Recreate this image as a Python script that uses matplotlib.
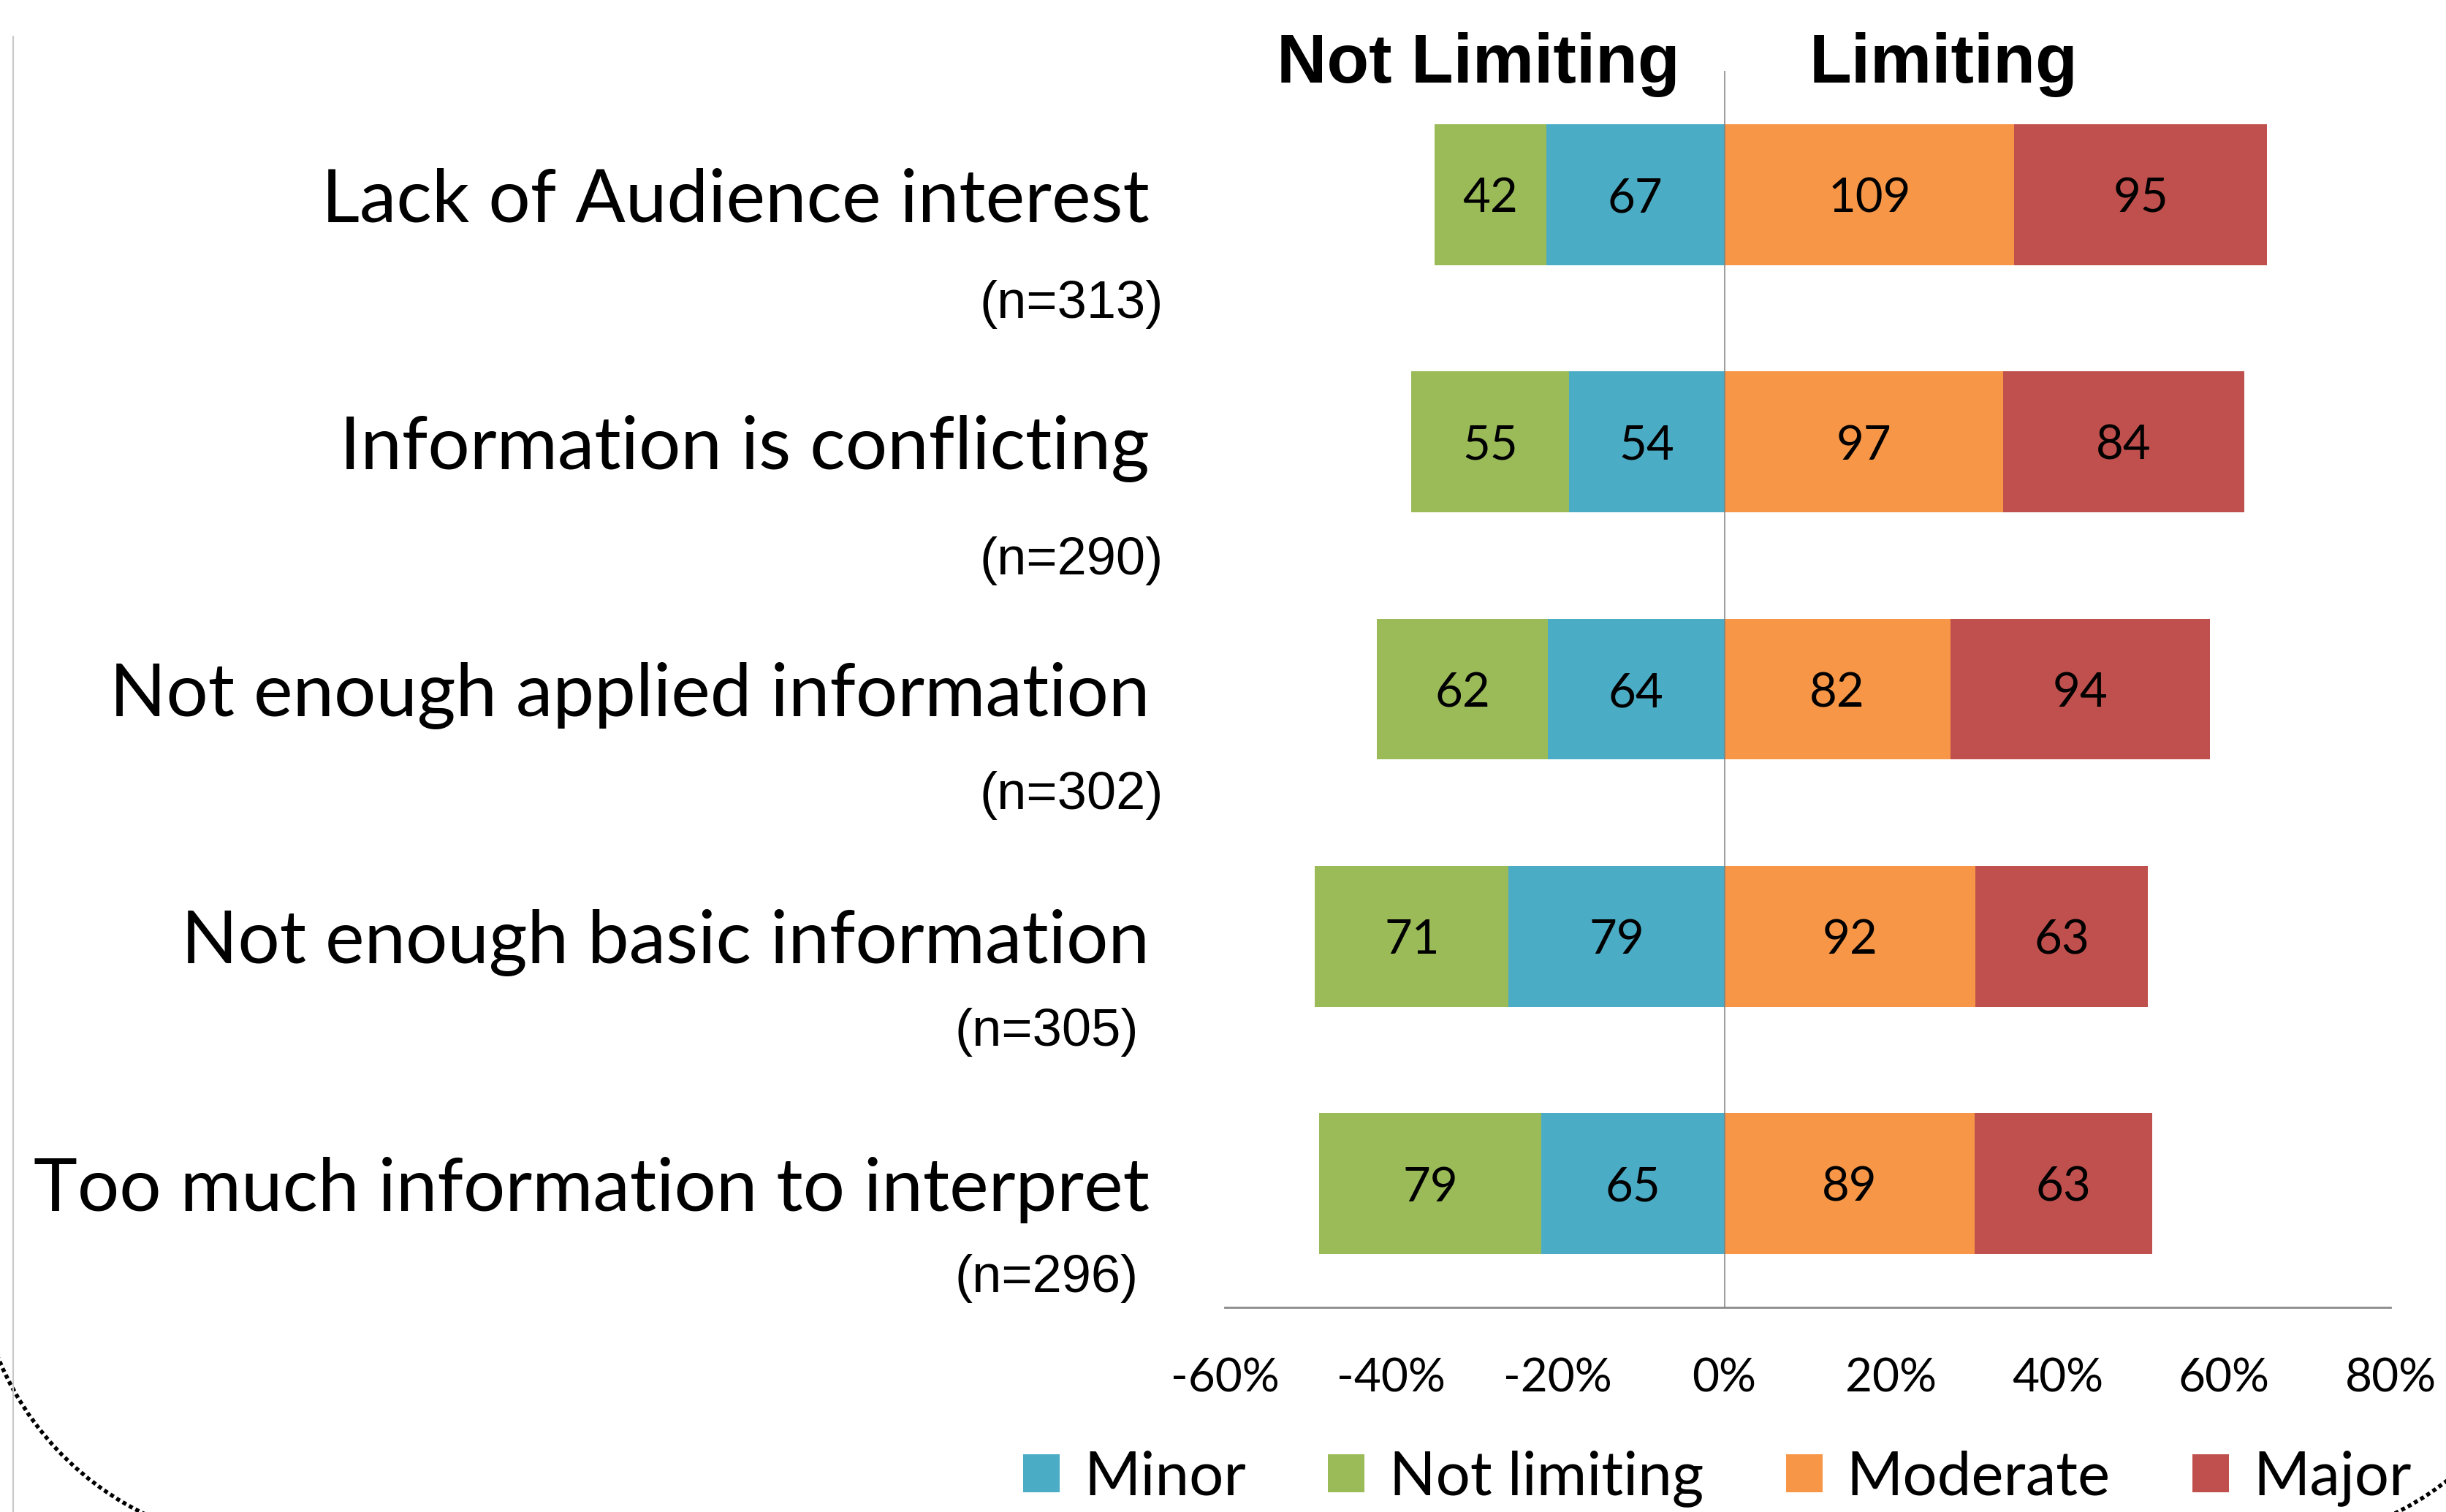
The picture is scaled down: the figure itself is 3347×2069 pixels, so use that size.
import matplotlib
matplotlib.use("Agg")
import matplotlib.pyplot as plt
import numpy as np
from matplotlib.lines import Line2D
from matplotlib.patches import Arc
from matplotlib.ticker import FuncFormatter
from matplotlib.transforms import IdentityTransform

# --- data -------------------------------------------------------------
CATEGORIES = [
    "Lack of Audience interest",
    "Information is conflicting",
    "Not enough applied information",
    "Not enough basic information",
    "Too much information to interpret",
]
N_RESP = [313, 290, 302, 305, 296]
NOT_LIMITING = [42, 55, 62, 71, 79]
MINOR = [67, 54, 64, 79, 65]
MODERATE = [109, 97, 82, 92, 89]
MAJOR = [95, 84, 94, 63, 63]
X_TICKS = [-60, -40, -20, 0, 20, 40, 60, 80]

# --- layout / style ---------------------------------------------------
COLORS = {
    "Minor": "#4BACC6",
    "Not limiting": "#9BBB59",
    "Moderate": "#F79646",
    "Major": "#C0504D",
}
N_LABEL_OFFSET = [0.443, 0.482, 0.431, 0.387, 0.384]
N_LABEL_X = [-0.0527, -0.0527, -0.0527, -0.074, -0.074]
BODY_FONT = "Lato"
HEAD_FONT = "Liberation Sans"

W, H = 3347, 2069
fig = plt.figure(figsize=(W / 100, H / 100), dpi=100)
ax = fig.add_axes([1676 / W, 1 - 1789 / H, 1595 / W, 1692 / H])

y = np.arange(len(CATEGORIES))
n = np.array(N_RESP, dtype=float)
minor = np.array(MINOR) / n * 100
notlim = np.array(NOT_LIMITING) / n * 100
moder = np.array(MODERATE) / n * 100
major = np.array(MAJOR) / n * 100

bar_h = 0.57
segments = [
    ("Minor", -minor, np.zeros_like(minor), MINOR),
    ("Not limiting", -notlim, -minor, NOT_LIMITING),
    ("Moderate", moder, np.zeros_like(moder), MODERATE),
    ("Major", major, moder, MAJOR),
]
handles = {}
for name, widths, lefts, counts in segments:
    bars = ax.barh(y, widths, left=lefts, height=bar_h, color=COLORS[name],
                   edgecolor="none", label=name, zorder=2)
    handles[name] = bars
    for yi, wi, li, c in zip(y, widths, lefts, counts):
        ax.text(li + wi / 2, yi, str(c), ha="center", va="center_baseline",
                fontsize=47, family=BODY_FONT, color="black", zorder=3)

ax.axvline(0, color="#808080", lw=1.1, zorder=4)

ax.set_xlim(-60, 80)
ax.set_ylim(len(CATEGORIES) - 0.5, -0.5)
ax.set_xticks(X_TICKS)
ax.xaxis.set_major_formatter(FuncFormatter(lambda v, _: f"{int(v)}%"))
ax.tick_params(axis="x", length=0, pad=49, labelsize=46)
for lbl in ax.get_xticklabels():
    lbl.set_family(BODY_FONT)

ax.set_yticks(y)
ax.set_yticklabels(CATEGORIES, fontsize=73, family=BODY_FONT)
ax.tick_params(axis="y", length=0, pad=74)

for side in ["top", "right", "left"]:
    ax.spines[side].set_visible(False)
ax.spines["bottom"].set_color("#8c8c8c")
ax.spines["bottom"].set_linewidth(2)

for yi, nn, off, xx in zip(y, N_RESP, N_LABEL_OFFSET, N_LABEL_X):
    ax.text(xx, yi + off, f"(n={nn})", transform=ax.get_yaxis_transform(),
            ha="right", va="center", fontsize=52, family=HEAD_FONT)

fig.text(2023 / W, 1 - 113 / H, "Not Limiting", ha="center", va="baseline",
         fontsize=68, fontweight="bold", family=HEAD_FONT)
fig.text(2660 / W, 1 - 113 / H, "Limiting", ha="center", va="baseline",
         fontsize=68, fontweight="bold", family=HEAD_FONT)

order = ["Minor", "Not limiting", "Moderate", "Major"]
leg = fig.legend([handles[k] for k in order], order, loc="center",
                 bbox_to_anchor=(2350 / W, 1 - 2023 / H), ncol=4, frameon=False,
                 prop={"family": BODY_FONT, "size": 60}, handlelength=0.6,
                 handleheight=0.58, handletextpad=0.4, columnspacing=1.35,
                 borderaxespad=0, borderpad=0)

# slide decorations: thin rule on the left and dotted arcs in the corners
fig.add_artist(Line2D([18 / W, 18 / W], [0, 1 - 50 / H], transform=fig.transFigure,
                      color="#c8c8c8", lw=1.5))
for cx, t1, t2 in [(377, 196, 250), (3096, 292, 315)]:
    fig.add_artist(Arc((cx, 366), 820, 820, theta1=t1, theta2=t2,
                       transform=IdentityTransform(), color="black", lw=4,
                       linestyle=(0, (1, 0.8))))

fig.savefig("out.png", dpi=100)
